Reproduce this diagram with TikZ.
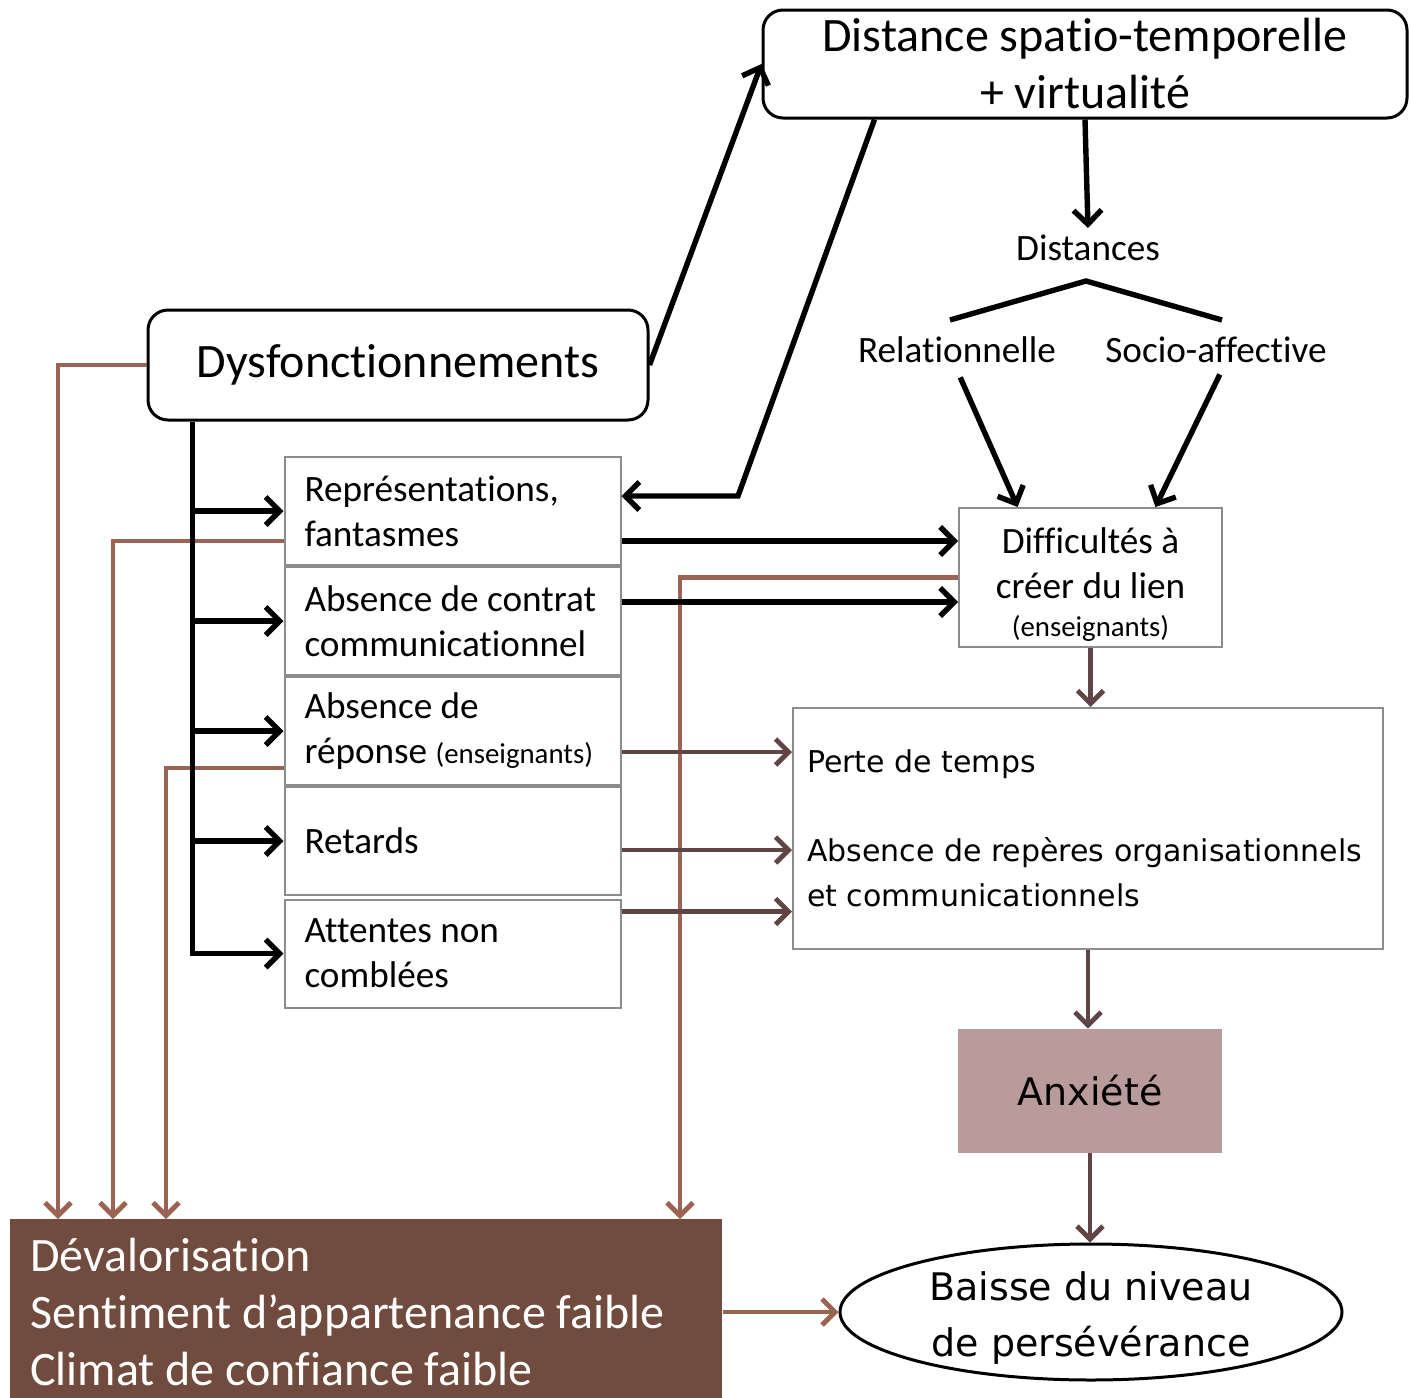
\documentclass[tikz,border=0pt]{standalone}
\usepackage{fontspec}
\setmainfont{Carlito}[Ligatures=NoCommon]
\newfontfamily\verd{DejaVu Sans}
\usetikzlibrary{arrows.meta,positioning,shapes.geometric,calc}
\definecolor{brunclair}{HTML}{9A6352}
\definecolor{brunfonce}{HTML}{604446}
\definecolor{brunbox}{HTML}{704B3E}
\definecolor{rosebox}{HTML}{B99B9B}
\definecolor{grisbord}{HTML}{8C8C8C}
\newcommand{\petit}{\fontsize{14.4}{17}\selectfont}

\begin{document}
\begin{tikzpicture}[x=0.5pt,y=-0.5pt,
		grand/.style={font=\fontsize{24}{28.5}\selectfont},
		moyen/.style={font=\fontsize{18.6}{22.5}\selectfont},
		arrondi/.style={draw,line width=1.5pt,rounded corners=10pt,grand,align=center,inner sep=0pt},
		cadre/.style={draw=grisbord,line width=1pt,moyen,inner sep=0pt},
		pile/.style={cadre,minimum height=54pt,text width=148pt,inner xsep=10pt,align=flush left},
		noir/.style={line width=2.7pt,-{Straight Barb[length=7pt,width=14pt]}},
		fonce/.style={draw=brunfonce,line width=2.4pt,-{Straight Barb[length=6.5pt,width=13pt]}},
		clair/.style={draw=brunclair,line width=2.4pt,-{Straight Barb[length=6.5pt,width=13pt]}}]
	\useasboundingbox (0,0) rectangle (1410,1398);
	
	\node[arrondi, minimum width=322pt, minimum height=54pt] (dist) at (1085,64) {Distance spatio-temporelle\\+ virtualité};
	\node[arrondi, minimum width=250pt, minimum height=55pt] (dysf) at (398,365) {Dysfonctionnements};
	\node[moyen] (dstn) at (1088,248) {Distances};
	\node[moyen] (rel) at (957,350) {Relationnelle};
	\node[moyen] (soc) at (1216,350) {Socio-affective};
	\node[cadre, minimum width=131.5pt, minimum height=69.5pt, align=center] (diff) at (1090.5,577.5)
		{\rule{0pt}{20pt}Difficultés à\\créer du lien\\[-3.5pt]{\petit (enseignants)}};
	
	\node[pile] (rep) at (452.5,511) {Représentations,\\fantasmes};
	\node[pile] (con) [below=0pt of rep] {Absence de contrat\\communicationnel};
	\node[pile] (rpn) [below=0pt of con] {Absence de\\réponse {\petit (enseignants)}};
	\node[pile] (ret) [below=0pt of rpn] {Retards};
	\node[pile] (att) [below=1.25pt of ret] {Attentes non\\comblées};
	
	\node[draw=grisbord, line width=1pt, minimum height=120.5pt, text width=281pt, inner xsep=7pt, inner ysep=0pt, align=flush left,
		font=\verd\fontsize{15}{22.5}\selectfont] (perte) at (1088,828.5)
		{Perte de temps\\[22pt]Absence de repères organisationnels\\et communicationnels};
	\node[fill=rosebox, minimum width=132pt, minimum height=62pt, font=\verd\fontsize{19}{23}\selectfont] (anx) at (1090,1091) {Anxiété};
	\node[ellipse, draw, line width=1.5pt, minimum width=251pt, minimum height=68pt, inner xsep=0pt, inner ysep=-7pt, align=center,
		font=\verd\fontsize{19}{28}\selectfont] (baisse) at (1091,1312) {\rule{0pt}{20.5pt}Baisse du niveau\\de persévérance};
	\node[fill=brunbox, text=white, anchor=north west, text width=336pt, inner xsep=10pt, inner ysep=9.5pt, align=flush left, grand] (deval) at (10,1219)
		{Dévalorisation\\Sentiment d’appartenance faible\\Climat de confiance faible};
	
	% liens vers le bas (en brun clair)
	\draw[clair] (dysf.west) -| ([xshift=24pt]deval.north west);
	\draw[clair] ([yshift=-15pt]rep.west) -| ([xshift=51.5pt]deval.north west);
	\draw[clair] ([yshift=-18.5pt]rpn.west) -| ([xshift=78pt]deval.north west);
	\draw[clair] (diff.west) -| ([xshift=335pt]deval.north west);
	\draw[clair] (deval.east |- baisse.west) -- (baisse.west);
	
	% distance et dysfonctionnements
	\draw[noir] (dysf.east) -- (dist.west);
	\coordinate (d1) at ([xshift=56.5pt]dist.south west);
	\coordinate (d2) at (738,496);
	\draw[noir] (d1) -- (d2) -- (d2 -| rep.east);
	\draw[noir] (dist.south) -- (dstn.north);
	\coordinate (apex) at (1086,281);
	\coordinate (tg) at (950,320);
	\coordinate (td) at (1222,320);
	\draw[line width=2.7pt] (tg) -- (apex) -- (td);
	\draw[noir, shorten <=4pt] (rel.south) -- ($(diff.north west)!0.225!(diff.north east)$);
	\draw[noir, shorten <=2.5pt] ([xshift=3pt]soc.south) -- ($(diff.north west)!0.745!(diff.north east)$);
	
	% tronc des dysfonctionnements
	\coordinate (tronc) at ([xshift=23pt]dysf.south west);
	\draw[noir] (tronc) |- (att.west);
	\foreach \b in {rep,con,rpn,ret}
		\draw[noir] (tronc |- \b.west) -- (\b.west);
	
	\coordinate (r1) at ([yshift=-15pt]rep.east);
	\draw[noir] (r1) -- (r1 -| diff.west);
	\coordinate (c1) at ([yshift=9.5pt]con.east);
	\draw[noir] (c1) -- (c1 -| diff.west);
	
	% vers perte de temps, anxiete, perseverance
	\foreach \b/\s in {rpn/-10.5pt, ret/-4.5pt, att/21pt}{
		\coordinate (s\b) at ([yshift=\s]\b.east);
		\draw[fonce] (s\b) -- (s\b -| perte.west);
	}
	\draw[fonce] (diff.south) -- (diff.south |- perte.north);
	\draw[fonce] (perte.south) -- (perte.south |- anx.north);
	\draw[fonce] (anx.south) -- (anx.south |- baisse.north);
\end{tikzpicture}
\end{document}
